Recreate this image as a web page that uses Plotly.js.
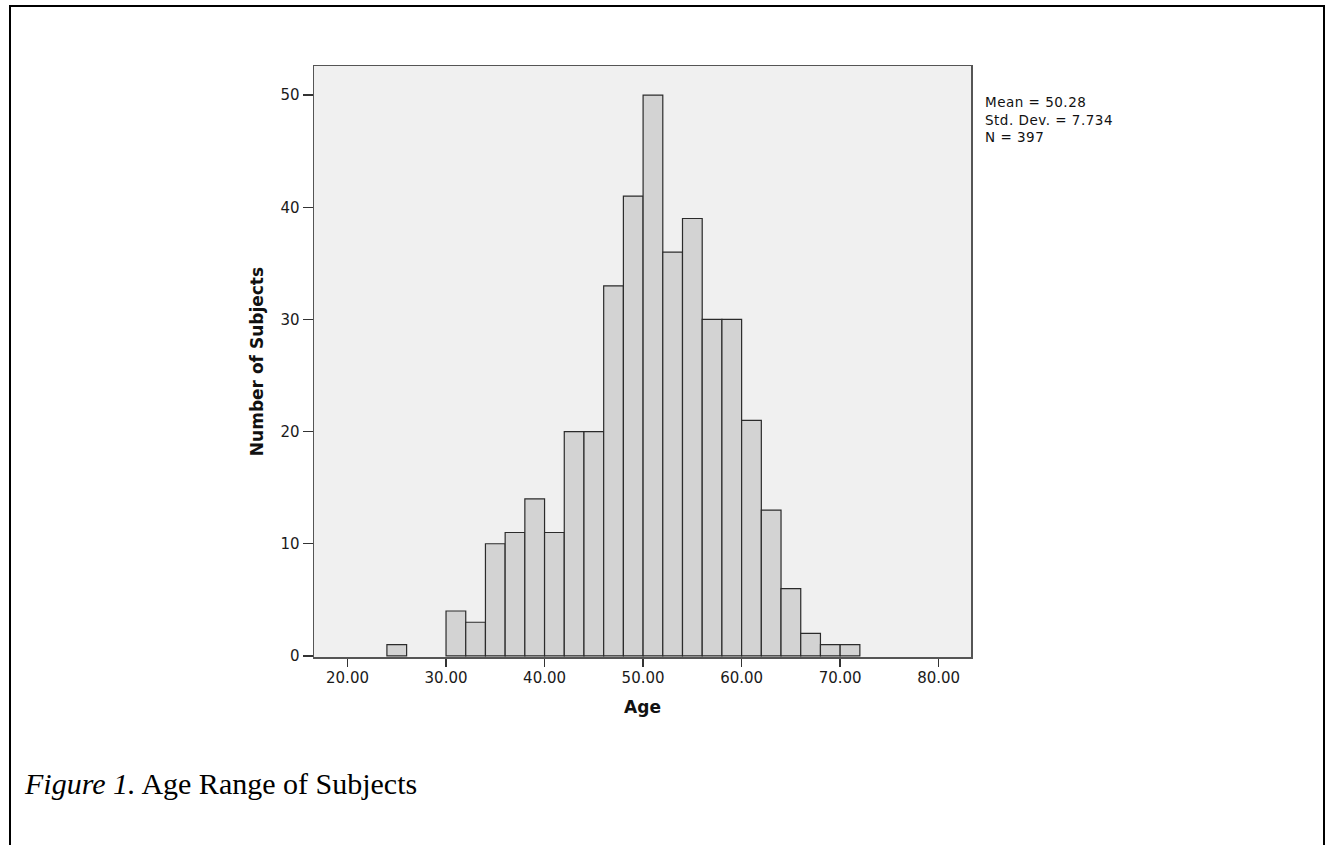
<!DOCTYPE html>
<html>
<head>
<meta charset="utf-8">
<script src="https://cdn.plot.ly/plotly-3.0.1.min.js"></script>
<style>
  html, body { margin: 0; padding: 0; background: #ffffff; overflow: hidden; }
  #chart { position: absolute; left: 0; top: 0; width: 1325px; height: 845px; }
  #frame { position: absolute; left: 9px; top: 5px; width: 1312px; height: 900px; z-index: 10;
           border: 2px solid #000; border-bottom: none; pointer-events: none; }
  .annotation[data-index="0"] text { letter-spacing: 0.5px; }
</style>
</head>
<body>
<div id="chart"></div>
<div id="frame"></div>
<script>
// Histogram bins (start of each 2-year bin) and counts
const binStarts = [24, 30, 32, 34, 36, 38, 40, 42, 44, 46, 48, 50, 52, 54, 56, 58, 60, 62, 64, 66, 68, 70];
const counts    = [1, 4, 3, 10, 11, 14, 11, 20, 20, 33, 41, 50, 36, 39, 30, 30, 21, 13, 6, 2, 1, 1];
const binWidth = 2;
const xTickVals = [20, 30, 40, 50, 60, 70, 80];
const yTickVals = [0, 10, 20, 30, 40, 50];
const statsLines = ["Mean = 50.28", "Std. Dev. = 7.734", "N = 397"];
const xTitle = "Age";
const yTitle = "Number of Subjects";
const captionItalic = "Figure 1.";
const captionText = " Age Range of Subjects";

const W = 1325, H = 845;
const M = { l: 314, r: 1325 - 971, t: 66, b: 845 - 657 };
const pw = W - M.l - M.r, ph = H - M.t - M.b;
const px = x => (x - M.l) / pw;
const py = y => (H - M.b - y) / ph;

const trace = {
  type: 'bar',
  x: binStarts.map(s => s + binWidth / 2),
  y: counts,
  width: binStarts.map(() => binWidth),
  marker: { color: '#d3d3d3', line: { color: '#2b2b2b', width: 1.2 } },
  hoverinfo: 'x+y'
};

const annotations = [{
  text: statsLines.join('<br>'), xref: 'paper', yref: 'paper',
  x: px(983), y: py(92), align: 'left',
  xanchor: 'left', yanchor: 'top', showarrow: false,
  font: { family: 'DejaVu Sans, sans-serif', size: 13.5, color: '#111' }
}, {
  text: '<i>' + captionItalic + '</i>' + captionText,
  xref: 'paper', yref: 'paper', x: px(22), y: py(783),
  xanchor: 'left', yanchor: 'middle', showarrow: false,
  font: { family: 'Liberation Serif, Times New Roman, serif', size: 30, color: '#000' }
}];

const layout = {
  width: W, height: H,
  margin: M,
  paper_bgcolor: 'rgba(0,0,0,0)',
  plot_bgcolor: '#f0f0f0',
  showlegend: false,
  bargap: 0,
  xaxis: {
    range: [16.6, 83.28],
    tickvals: xTickVals,
    ticktext: xTickVals.map(v => v.toFixed(2)),
    ticks: 'outside', ticklen: 8, tickwidth: 1.5, tickcolor: '#333',
    ticklabelstandoff: -2,
    showline: true, linecolor: '#555', linewidth: 1.5, mirror: true,
    showgrid: false, zeroline: false,
    tickfont: { family: 'DejaVu Sans, sans-serif', size: 15, color: '#1a1a1a' },
    title: { text: xTitle, standoff: 15,
             font: { family: 'DejaVu Sans, sans-serif', size: 17, color: '#111', weight: 'bold' } }
  },
  yaxis: {
    range: [-0.1, 52.6],
    tickvals: yTickVals,
    ticks: 'outside', ticklen: 10, tickwidth: 1.5, tickcolor: '#333',
    showline: true, linecolor: '#555', linewidth: 1.5, mirror: true,
    showgrid: false, zeroline: false,
    tickfont: { family: 'DejaVu Sans, sans-serif', size: 15, color: '#1a1a1a' },
    title: { text: yTitle, standoff: 12,
             font: { family: 'DejaVu Sans, sans-serif', size: 17, color: '#111', weight: 'bold' } }
  },
  annotations: annotations
};

Plotly.newPlot('chart', [trace], layout, { displayModeBar: false, staticPlot: true });
</script>
</body>
</html>
